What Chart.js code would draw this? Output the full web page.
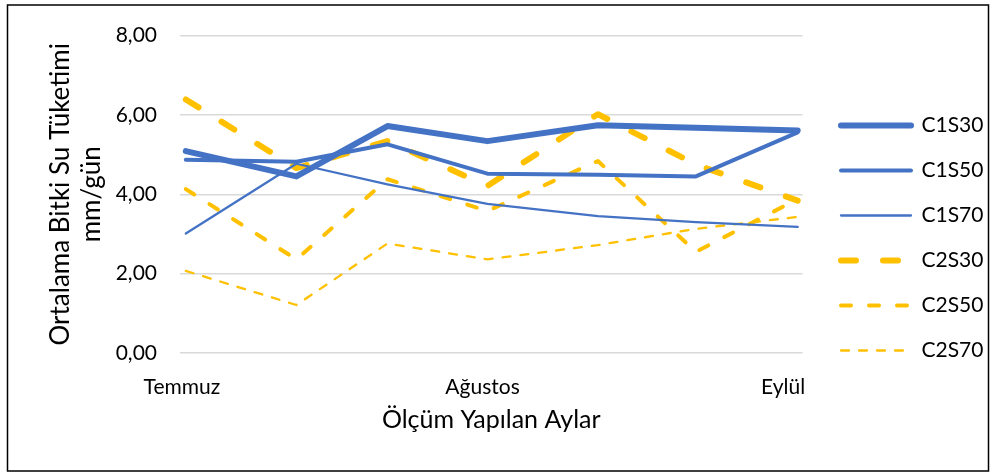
<!DOCTYPE html>
<html>
<head>
<meta charset="utf-8">
<script src="https://cdn.jsdelivr.net/npm/chart.js"></script>
<style>
  html, body { margin: 0; padding: 0; background: #fff; }
  canvas { display: block; }
</style>
</head>
<body>
<canvas id="grafik" width="997" height="472"></canvas>
<script>
// ölçüm günleri (1 Temmuz = 0)
const days = [0.4, 11.8, 21.2, 31.5, 42.9, 53.0, 63.5];
const monthTicks = [0, 31, 62];
const monthNames = ['Temmuz', 'Ağustos', 'Eylül'];

const c1s30 = [5.09, 4.45, 5.72, 5.34, 5.74, 5.68, 5.61];
const c1s50 = [4.87, 4.82, 5.26, 4.52, 4.49, 4.45, 5.56];
const c1s70 = [3.01, 4.77, 4.25, 3.76, 3.45, 3.30, 3.18];
const c2s30 = [6.39, 4.66, 5.34, 4.21, 6.02, 4.75, 3.84];
const c2s50 = [4.13, 2.36, 4.38, 3.58, 4.84, 2.55, 3.88];
const c2s70 = [2.07, 1.21, 2.76, 2.36, 2.72, 3.13, 3.43];

const blue = '#4472C4';
const gold = '#FFC000';

function pts(vals) {
  return days.map((d, i) => ({ x: d, y: vals[i] }));
}

function seri(label, vals, color, width, dash) {
  return {
    label: label,
    data: pts(vals),
    borderColor: color,
    backgroundColor: color,
    borderWidth: width,
    borderDash: dash,
    borderCapStyle: 'round',
    borderJoinStyle: 'round',
    pointRadius: 0,
    fill: false,
    tension: 0
  };
}

Chart.defaults.font.family = 'Lato';
Chart.defaults.color = '#000';

// kutu çizgisi ve lejant konumu
const cerceve = {
  id: 'cerceve',
  afterLayout(chart) {
    const lg = chart.legend;
    const w = lg.right - lg.left;
    lg.left = 817;
    lg.right = lg.left + w;
    lg.top += 3;
    lg.bottom += 3;
  },
  afterDraw(chart) {
    const c = chart.ctx;
    c.save();
    c.strokeStyle = '#000';
    c.lineWidth = 1.5;
    c.strokeRect(7.5, 5, 981, 466);
    c.restore();
  }
};

new Chart(document.getElementById('grafik'), {
  type: 'line',
  data: {
    datasets: [
      seri('C1S30', c1s30, blue, 6, []),
      seri('C1S50', c1s50, blue, 4, []),
      seri('C1S70', c1s70, blue, 2.3, []),
      seri('C2S30', c2s30, gold, 6, [15, 27]),
      seri('C2S50', c2s50, gold, 4, [10, 18]),
      seri('C2S70', c2s70, gold, 2.3, [8, 10])
    ]
  },
  options: {
    responsive: false,
    animation: false,
    layout: { padding: { left: 8, top: 35, right: 18, bottom: 37 } },
    plugins: {
      legend: {
        position: 'right',
        labels: {
          usePointStyle: true,
          pointStyle: 'line',
          pointStyleWidth: 70,
          font: { size: 21 },
          padding: 24,
          generateLabels(chart) {
            const items = Chart.defaults.plugins.legend.labels.generateLabels(chart);
            items.forEach(it => {
              const ds = chart.data.datasets[it.datasetIndex];
              it.lineDash = ds.borderDash;
              it.lineCap = 'round';
              it.lineWidth = ds.borderWidth;
            });
            return items;
          }
        }
      },
      tooltip: { enabled: false }
    },
    scales: {
      x: {
        type: 'linear',
        min: -0.2,
        max: 64,
        grid: { display: false },
        border: { display: false },
        afterBuildTicks(scale) {
          scale.ticks = monthTicks.map(v => ({ value: v }));
        },
        afterFit(scale) { scale.height = 82; },
        ticks: {
          autoSkip: false,
          maxRotation: 0,
          padding: 14,
          font: { size: 21 },
          callback: v => monthNames[monthTicks.indexOf(v)]
        },
        title: {
          display: true,
          text: 'Ölçüm Yapılan Aylar',
          font: { size: 25 },
          padding: { top: 0, bottom: 0 }
        }
      },
      y: {
        min: 0,
        max: 8,
        grid: { color: '#d9d9d9', lineWidth: 1.5, drawTicks: false },
        border: { display: false },
        afterFit(scale) { scale.width = 172; },
        ticks: {
          stepSize: 2,
          padding: 23,
          font: { size: 21 },
          callback: v => v.toFixed(2).replace('.', ',')
        },
        title: {
          display: true,
          text: ['Ortalama Bitki Su Tüketimi', 'mm/gün'],
          font: { size: 26, lineHeight: 1.2 },
          padding: { top: 37, bottom: 0 }
        }
      }
    }
  },
  plugins: [cerceve]
});
</script>
</body>
</html>
